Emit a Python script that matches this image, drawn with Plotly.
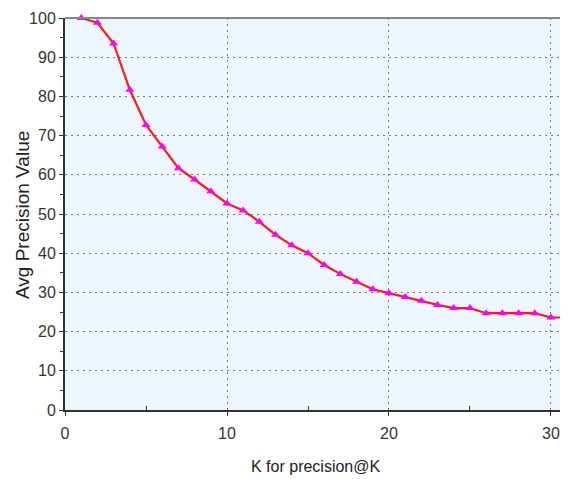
import plotly.graph_objects as go

k_values = list(range(1, 32))
avg_precision = [100, 98.8, 93.5, 81.7, 72.7, 67.2, 61.7, 58.8, 55.8, 52.7,
                 50.9, 48.0, 44.7, 42.0, 40.0, 37.0, 34.7, 32.7, 30.8, 29.8,
                 28.8, 27.9, 26.8, 26.0, 26.0, 24.7, 24.7, 24.7, 24.7, 23.6, 23.6]

x_ticks = [0, 10, 20, 30]
y_ticks = [0, 10, 20, 30, 40, 50, 60, 70, 80, 90, 100]

font_family = "Liberation Sans, Arial, sans-serif"

fig = go.Figure()
fig.add_trace(go.Scatter(
    x=k_values, y=avg_precision, mode="lines+markers",
    line=dict(color="#ff1a1a", width=2.2),
    marker=dict(symbol="triangle-up", size=8, color="#ff00ff"),
    showlegend=False, cliponaxis=False,
))

# page body has an 8px default margin, so the figure is sized to fit the window
fig.update_layout(
    width=560, height=471,
    margin=dict(l=57, r=0, t=10, b=69),
    paper_bgcolor="white", plot_bgcolor="#eef6fd",
    font=dict(family=font_family, color="#333333"),
    xaxis=dict(
        range=[0, 31.05], tickvals=x_ticks, showgrid=True, automargin=False,
        gridcolor="#777777", griddash="2px,4px", gridwidth=1,
        showline=True, linecolor="#333333", linewidth=2,
        ticks="outside", ticklen=4, tickcolor="#333333",
        minor=dict(tickvals=[5, 15, 25], ticks="inside", ticklen=4, tickcolor="#333333", showgrid=False),
        tickfont=dict(size=16, family=font_family, color="#333333"),
        ticklabelstandoff=4,
        zeroline=False,
    ),
    yaxis=dict(
        range=[0, 100], tickvals=y_ticks, showgrid=True, automargin=False,
        gridcolor="#777777", griddash="2px,4px", gridwidth=1,
        showline=True, linecolor="#333333", linewidth=2,
        ticks="outside", ticklen=4, tickcolor="#333333",
        minor=dict(tickvals=[5, 15, 25, 35, 45, 55, 65, 75, 85, 95], ticks="outside", ticklen=3, tickcolor="#333333", showgrid=False),
        tickfont=dict(size=16, family=font_family, color="#333333"),
        zeroline=False,
    ),
    annotations=[
        dict(text="K for precision@K", xref="paper", yref="paper",
             x=(316 - 65) / 503, y=-(466 - 410) / 392, xanchor="center", yanchor="middle",
             showarrow=False, font=dict(size=16, family=font_family, color="#222222")),
        dict(text="Avg Precision Value", xref="paper", yref="paper",
             x=-(65 - 22) / 503, y=(410 - 215) / 392, xanchor="center", yanchor="middle",
             textangle=-90, showarrow=False, font=dict(size=19, family=font_family, color="#222222")),
    ],
)

fig.add_shape(type="line", xref="paper", yref="paper", x0=0, x1=1, y0=1, y1=1,
              line=dict(color="#888888", width=2))

fig.write_html("out.html")
